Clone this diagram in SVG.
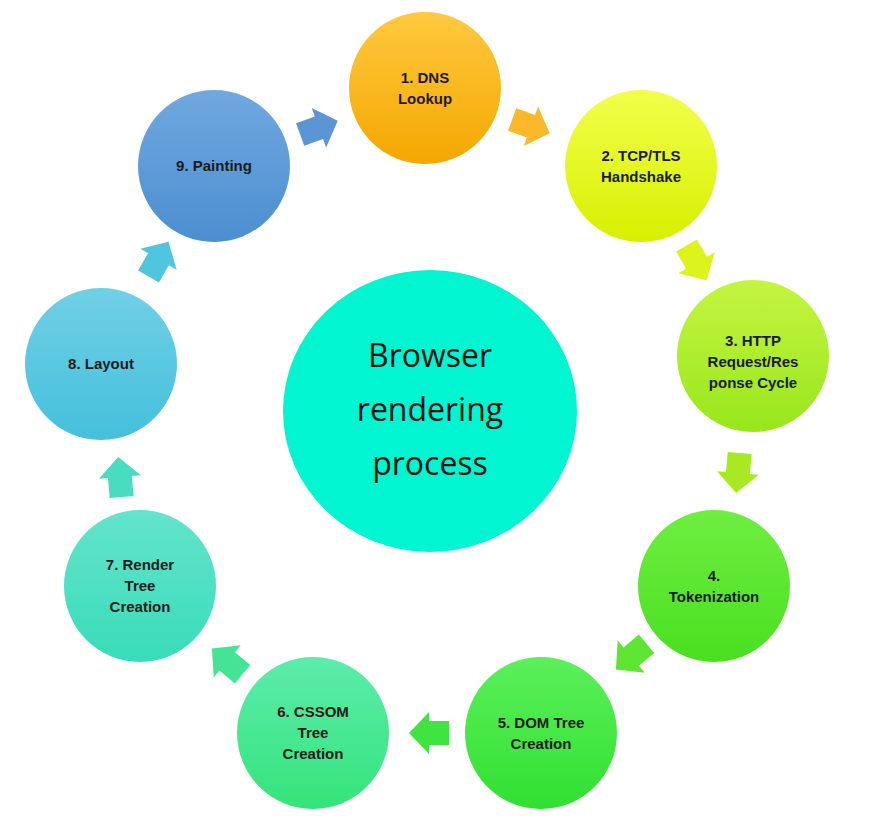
<svg xmlns="http://www.w3.org/2000/svg" width="876" height="828" viewBox="0 0 876 828">
<defs>
<style>
.t{font-family:"Liberation Sans",Arial,sans-serif;font-size:15px;font-weight:bold;fill:#1a1a1a;text-anchor:middle}
.c{font-family:"Open Sans","Liberation Sans",sans-serif;font-size:32px;fill:#111;text-anchor:middle}
</style>
<path id="ar" d="M-19,-12 L1,-12 L1,-21 L21,0 L1,21 L1,12 L-19,12 Z"/>
<linearGradient id="g1" x1="0" y1="0" x2="0" y2="1"><stop offset="0" stop-color="#ffc93f"/><stop offset="1" stop-color="#f4a700"/></linearGradient>
<linearGradient id="g2" x1="0" y1="0" x2="0" y2="1"><stop offset="0" stop-color="#f2ff4a"/><stop offset="1" stop-color="#d6f000"/></linearGradient>
<linearGradient id="g3" x1="0" y1="0" x2="0" y2="1"><stop offset="0" stop-color="#c4f540"/><stop offset="1" stop-color="#98e61c"/></linearGradient>
<linearGradient id="g4" x1="0" y1="0" x2="0" y2="1"><stop offset="0" stop-color="#6fee40"/><stop offset="1" stop-color="#48e020"/></linearGradient>
<linearGradient id="g5" x1="0" y1="0" x2="0" y2="1"><stop offset="0" stop-color="#5cf05a"/><stop offset="1" stop-color="#30e030"/></linearGradient>
<linearGradient id="g6" x1="0" y1="0" x2="0" y2="1"><stop offset="0" stop-color="#5cecac"/><stop offset="1" stop-color="#34e47a"/></linearGradient>
<linearGradient id="g7" x1="0" y1="0" x2="0" y2="1"><stop offset="0" stop-color="#64e4cc"/><stop offset="1" stop-color="#38dcb8"/></linearGradient>
<linearGradient id="g8" x1="0" y1="0" x2="0" y2="1"><stop offset="0" stop-color="#70d0e6"/><stop offset="1" stop-color="#44c0dc"/></linearGradient>
<linearGradient id="g9" x1="0" y1="0" x2="0" y2="1"><stop offset="0" stop-color="#70a8e0"/><stop offset="1" stop-color="#4c8ed0"/></linearGradient>
</defs>
<rect width="876" height="828" fill="#fff"/>
<g id="center"><ellipse cx="430" cy="411" rx="147" ry="141" fill="#00f5d0"/>
<text class="c" x="430" y="367">Browser</text><text class="c" x="430" y="421">rendering</text><text class="c" x="430" y="475">process</text></g>
<g id="n1"><circle cx="425" cy="88" r="76" fill="url(#g1)"/><text class="t" x="425" y="83">1. DNS</text><text class="t" x="425" y="104">Lookup</text></g>
<g id="n2"><circle cx="641" cy="166" r="76" fill="url(#g2)"/><text class="t" x="641" y="161">2. TCP/TLS</text><text class="t" x="641" y="182">Handshake</text></g>
<g id="n3"><circle cx="753" cy="356" r="76" fill="url(#g3)"/><text class="t" x="753" y="346">3. HTTP</text><text class="t" x="753" y="367">Request/Res</text><text class="t" x="753" y="388">ponse Cycle</text></g>
<g id="n4"><circle cx="714" cy="586" r="76" fill="url(#g4)"/><text class="t" x="714" y="581">4.</text><text class="t" x="714" y="602">Tokenization</text></g>
<g id="n5"><circle cx="541" cy="733" r="76" fill="url(#g5)"/><text class="t" x="541" y="728">5. DOM Tree</text><text class="t" x="541" y="749">Creation</text></g>
<g id="n6"><circle cx="313" cy="733" r="76" fill="url(#g6)"/><text class="t" x="313" y="717">6. CSSOM</text><text class="t" x="313" y="738">Tree</text><text class="t" x="313" y="759">Creation</text></g>
<g id="n7"><circle cx="140" cy="586" r="76" fill="url(#g7)"/><text class="t" x="140" y="570">7. Render</text><text class="t" x="140" y="591">Tree</text><text class="t" x="140" y="612">Creation</text></g>
<g id="n8"><circle cx="101" cy="364" r="76" fill="url(#g8)"/><text class="t" x="101" y="369">8. Layout</text></g>
<g id="n9"><circle cx="214" cy="166" r="76" fill="url(#g9)"/><text class="t" x="214" y="171">9. Painting</text></g>
<g id="connectors">
<use href="#ar" fill="#5b96d4" transform="translate(318,128) rotate(-20)"/>
<use href="#ar" fill="#fbb92a" transform="translate(530,126) rotate(20)"/>
<use href="#ar" fill="#dcf31c" transform="translate(696,262) rotate(60)"/>
<use href="#ar" fill="#a8ea22" transform="translate(738,472) rotate(95)"/>
<use href="#ar" fill="#5ce632" transform="translate(632,656) rotate(140)"/>
<use href="#ar" fill="#40e440" transform="translate(430,733) rotate(180)"/>
<use href="#ar" fill="#44e496" transform="translate(228,662) rotate(-140)"/>
<use href="#ar" fill="#48dcc0" transform="translate(120,478) rotate(-95)"/>
<use href="#ar" fill="#50c6de" transform="translate(158,260) rotate(-60)"/>
</g>
</svg>
